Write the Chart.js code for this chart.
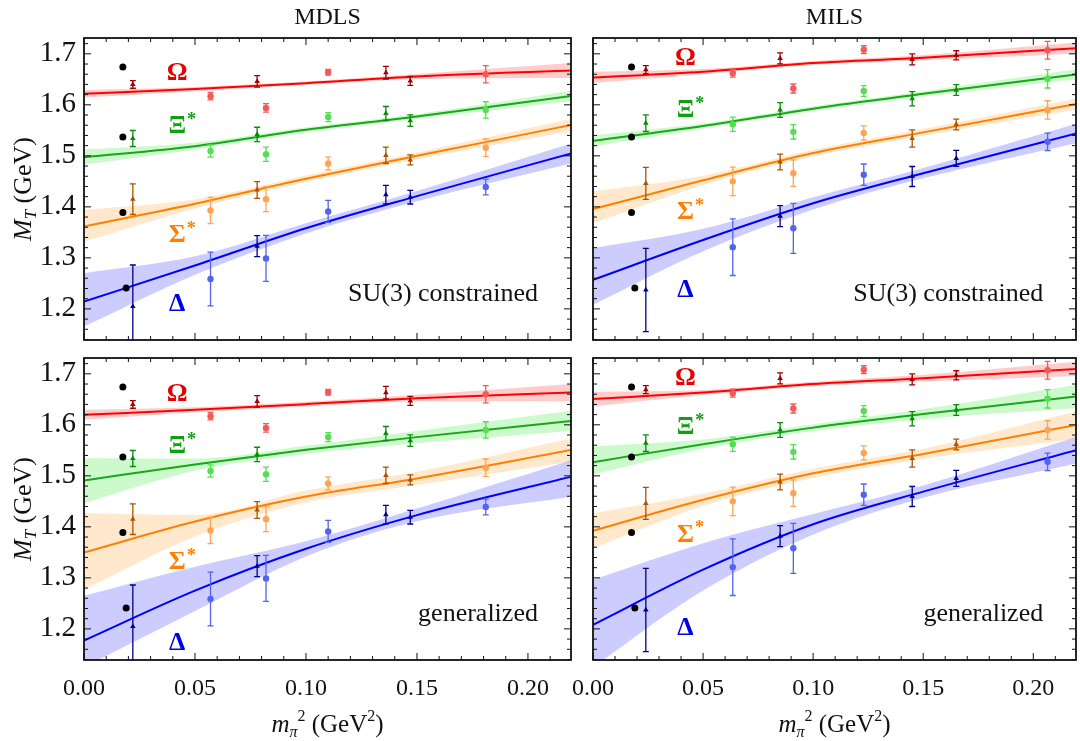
<!DOCTYPE html>
<html>
<head>
<meta charset="utf-8">
<script src="https://cdn.jsdelivr.net/npm/chart.js@4.4.0/dist/chart.umd.min.js"></script>
<style>
  body { margin: 0; background: #fff; width: 1080px; height: 741px; overflow: hidden; position: relative; }
  canvas { position: absolute; }
</style>
</head>
<body>
<canvas id="tl" width="582" height="349" style="left:0;top:0"></canvas>
<canvas id="tr" width="498" height="349" style="left:582px;top:0"></canvas>
<canvas id="bl" width="582" height="392" style="left:0;top:349px"></canvas>
<canvas id="br" width="520" height="392" style="left:560px;top:349px"></canvas>
<script>
// axes
const xTicks = [0, 0.05, 0.10, 0.15, 0.20];
const yTicks = [1.2, 1.3, 1.4, 1.5, 1.6, 1.7];
const xMin = 0, xMax = 0.2194;
const yMin = 1.139, yMax = 1.731;

// baryons: Omega, Xi*, Sigma*, Delta
const names = ['Ω', 'Ξ', 'Σ', 'Δ'];
const starred = [false, true, true, false];
const lineColors = ['#ff0000', '#19a619', '#ff8000', '#0000ff'];
const bandColors = ['rgba(255,0,0,0.2)', 'rgba(0,230,0,0.2)', 'rgba(255,140,0,0.2)', 'rgba(0,0,255,0.2)'];
const triColors = ['#a00000', '#0a8a0a', '#a85400', '#000090'];
const circColors = ['#f25a5a', '#52e052', '#ffa452', '#5264f0'];
const labelColors = ['#e60000', '#0fa00f', '#ff8000', '#0000e6'];

// physical masses
const physX = [0.0175, 0.0175, 0.0175, 0.019];
const physM = [1.674, 1.537, 1.389, 1.241];

// lattice points, [mass, error]
const mdlsTriX = [0.022, 0.078, 0.136, 0.147];
const mdlsCircX = [0.057, 0.082, 0.110, 0.181];
const mdlsTri = [
  [[1.640, 0.0075], [1.646, 0.0114], [1.663, 0.0124], [1.647, 0.0088]],
  [[1.534, 0.0157], [1.542, 0.014], [1.583, 0.0137], [1.569, 0.0114]],
  [[1.415, 0.030], [1.433, 0.0163], [1.501, 0.016], [1.492, 0.0098]],
  [[1.205, 0.081], [1.323, 0.0206], [1.424, 0.018], [1.419, 0.0134]]
];
const mdlsCirc = [
  [[1.617, 0.0072], [1.594, 0.0082], [1.664, 0.0056], [1.660, 0.017]],
  [[1.5095, 0.012], [1.503, 0.014], [1.576, 0.0088], [1.590, 0.016]],
  [[1.393, 0.026], [1.415, 0.0245], [1.485, 0.0124], [1.516, 0.017]],
  [[1.2585, 0.0526], [1.299, 0.045], [1.391, 0.0216], [1.439, 0.0154]]
];
const milsTriX = [0.024, 0.085, 0.145, 0.165];
const milsCircX = [0.0635, 0.091, 0.123, 0.2065];
const milsTri = [
  [[1.669, 0.0078], [1.691, 0.0108], [1.689, 0.0108], [1.697, 0.009]],
  [[1.564, 0.0163], [1.590, 0.0144], [1.612, 0.014], [1.629, 0.0105]],
  [[1.446, 0.0314], [1.488, 0.0154], [1.534, 0.017], [1.5615, 0.0105]],
  [[1.237, 0.0817], [1.382, 0.0206], [1.4595, 0.0196], [1.495, 0.0157]]
];
const milsCirc = [
  [[1.662, 0.0078], [1.632, 0.0088], [1.708, 0.0078], [1.707, 0.0173]],
  [[1.562, 0.014], [1.547, 0.014], [1.627, 0.0105], [1.651, 0.018]],
  [[1.450, 0.028], [1.466, 0.026], [1.545, 0.0137], [1.590, 0.018]],
  [[1.321, 0.0556], [1.358, 0.049], [1.463, 0.021], [1.5275, 0.017]]
];

// fits read at these pion masses: [central, upper, lower]
const fitX = [0, 0.05, 0.10, 0.15, 0.22];
const mdlsSu3 = [
  [[1.6216, 1.6308, 1.6425, 1.6556, 1.6674], [1.6288, 1.6348, 1.6458, 1.6606, 1.6821], [1.6144, 1.6268, 1.6392, 1.6506, 1.6527]],
  [[1.4974, 1.519, 1.551, 1.5772, 1.6177], [1.5124, 1.5255, 1.556, 1.5822, 1.6282], [1.4824, 1.5125, 1.546, 1.5722, 1.6072]],
  [[1.3615, 1.406, 1.455, 1.500, 1.5608], [1.3942, 1.415, 1.4615, 1.5065, 1.5728], [1.332, 1.397, 1.4485, 1.4935, 1.5488]],
  [[1.2144, 1.285, 1.358, 1.421, 1.5053], [1.270, 1.303, 1.368, 1.431, 1.5249], [1.1654, 1.267, 1.348, 1.411, 1.4857]]
];
const milsSu3 = [
  [[1.6536, 1.665, 1.682, 1.6925, 1.7112], [1.6646, 1.670, 1.686, 1.6975, 1.7222], [1.6426, 1.660, 1.678, 1.6875, 1.7002]],
  [[1.5295, 1.5585, 1.5925, 1.6215, 1.66], [1.5405, 1.5635, 1.597, 1.6265, 1.67], [1.5185, 1.5535, 1.588, 1.6165, 1.65]],
  [[1.3955, 1.452, 1.5055, 1.546, 1.602], [1.4301, 1.461, 1.512, 1.5525, 1.613], [1.368, 1.443, 1.499, 1.5395, 1.591]],
  [[1.2569, 1.335, 1.407, 1.466, 1.5445], [1.319, 1.357, 1.419, 1.476, 1.5635], [1.2079, 1.313, 1.395, 1.456, 1.5255]]
];
const mdlsGen = [
  [[1.6196, 1.6295, 1.6406, 1.6523, 1.6634], [1.6294, 1.6345, 1.6451, 1.6588, 1.6804], [1.6098, 1.6245, 1.6361, 1.6458, 1.6464]],
  [[1.4909, 1.5223, 1.551, 1.5759, 1.6079], [1.5347, 1.534, 1.559, 1.588, 1.628], [1.4464, 1.510, 1.543, 1.564, 1.588]],
  [[1.3497, 1.4105, 1.4595, 1.495, 1.551], [1.4268, 1.4236, 1.4715, 1.508, 1.574], [1.2765, 1.381, 1.4475, 1.482, 1.528]],
  [[1.1772, 1.275, 1.357, 1.423, 1.4987], [1.2648, 1.322, 1.372, 1.436, 1.5314], [1.125, 1.235, 1.342, 1.411, 1.4595]]
];
const milsGen = [
  [[1.6504, 1.6634, 1.68, 1.6915, 1.7098], [1.6648, 1.6684, 1.6845, 1.698, 1.7238], [1.636, 1.6584, 1.6755, 1.685, 1.6958]],
  [[1.5268, 1.562, 1.5945, 1.621, 1.6556], [1.5575, 1.571, 1.601, 1.631, 1.6786], [1.502, 1.553, 1.588, 1.611, 1.6326]],
  [[1.3922, 1.453, 1.505, 1.543, 1.6], [1.4268, 1.465, 1.514, 1.553, 1.627], [1.3582, 1.441, 1.496, 1.533, 1.573]],
  [[1.2079, 1.316, 1.405, 1.469, 1.551], [1.2961, 1.368, 1.425, 1.481, 1.577], [1.125, 1.275, 1.385, 1.457, 1.525]]
];

// label positions (data coords)
const labelX = 0.042;
const labelYTL = [1.662, 1.557, 1.345, 1.2085];
const labelYTR = [1.6915, 1.5896, 1.3896, 1.2373];
const labelYBL = [1.659, 1.5576, 1.3308, 1.1713];
const labelYBR = [1.6915, 1.5948, 1.3844, 1.2007];
const noteX = 0.2045, noteY = 1.2163;

const serif = '"Liberation Serif", "DejaVu Serif", serif';

function pts(xs, vals) {
  return xs.map((x, i) => ({ x: x, y: vals[i] }));
}

function buildDatasets(triX, circX, tri, circ, fits) {
  const ds = [];
  for (let b = 0; b < 4; b++) {
    ds.push({
      data: pts(triX, tri[b].map(p => p[0])), errs: tri[b].map(p => p[1]),
      pointStyle: 'triangle', pointRadius: 3.2, backgroundColor: triColors[b],
      borderColor: triColors[b], borderWidth: 0, showLine: false, order: 0
    });
    ds.push({
      data: pts(circX, circ[b].map(p => p[0])), errs: circ[b].map(p => p[1]),
      pointStyle: 'circle', pointRadius: 3.2, backgroundColor: circColors[b],
      borderColor: circColors[b], borderWidth: 0, showLine: false, order: 0
    });
  }
  ds.push({
    data: pts(physX, physM), pointStyle: 'circle', pointRadius: 3.5,
    backgroundColor: '#000', borderColor: '#000', borderWidth: 0, showLine: false, order: 0
  });
  for (let b = 0; b < 4; b++) {
    ds.push({
      data: pts(fitX, fits[b][0]), showLine: true, borderColor: lineColors[b], borderWidth: 2,
      pointRadius: 0, cubicInterpolationMode: 'monotone', fill: false, order: 1
    });
    ds.push({
      data: pts(fitX, fits[b][1]), showLine: true, borderWidth: 0, borderColor: 'rgba(0,0,0,0)',
      backgroundColor: bandColors[b], pointRadius: 0, cubicInterpolationMode: 'monotone', fill: '+1', order: 2
    });
    ds.push({
      data: pts(fitX, fits[b][2]), showLine: true, borderWidth: 0, borderColor: 'rgba(0,0,0,0)',
      pointRadius: 0, cubicInterpolationMode: 'monotone', fill: false, order: 2
    });
  }
  return ds;
}

const errorBars = {
  id: 'errorBars',
  afterDatasetsDraw(chart) {
    const { ctx, chartArea: a } = chart;
    const x = chart.scales.x, y = chart.scales.y;
    ctx.save();
    ctx.beginPath();
    ctx.rect(a.left, a.top, a.right - a.left, a.bottom - a.top);
    ctx.clip();
    ctx.lineWidth = 1.3;
    chart.data.datasets.forEach(ds => {
      if (!ds.errs) return;
      ctx.strokeStyle = ds.borderColor;
      ds.data.forEach((p, i) => {
        const px = x.getPixelForValue(p.x);
        const y1 = y.getPixelForValue(p.y + ds.errs[i]);
        const y2 = y.getPixelForValue(p.y - ds.errs[i]);
        ctx.beginPath();
        ctx.moveTo(px, y1); ctx.lineTo(px, y2);
        ctx.moveTo(px - 3, y1); ctx.lineTo(px + 3, y1);
        ctx.moveTo(px - 3, y2); ctx.lineTo(px + 3, y2);
        ctx.stroke();
      });
    });
    ctx.restore();
  }
};

// frame with inward ticks on all four sides
const frame = {
  id: 'frame',
  afterDraw(chart) {
    const { ctx, chartArea: a } = chart;
    const x = chart.scales.x, y = chart.scales.y;
    ctx.save();
    ctx.strokeStyle = '#111';
    ctx.lineWidth = 1;
    ctx.beginPath();
    for (let i = 0; i <= 22; i++) {
      const px = x.getPixelForValue(i / 100);
      if (px > a.right - 1) break;
      const len = i % 5 === 0 ? 7 : 4;
      ctx.moveTo(px, a.bottom); ctx.lineTo(px, a.bottom - len);
      ctx.moveTo(px, a.top); ctx.lineTo(px, a.top + len);
    }
    for (let i = 57; i <= 86; i++) {
      const py = y.getPixelForValue(i * 0.02);
      const len = i % 5 === 0 ? 7 : 4;
      ctx.moveTo(a.left, py); ctx.lineTo(a.left + len, py);
      ctx.moveTo(a.right, py); ctx.lineTo(a.right - len, py);
    }
    ctx.stroke();
    ctx.lineWidth = 1.8;
    ctx.strokeRect(a.left, a.top, a.right - a.left, a.bottom - a.top);
    ctx.restore();
  }
};

function drawRich(ctx, pieces, cx, by) {
  let w = 0;
  pieces.forEach(p => { ctx.font = p.f; w += ctx.measureText(p.t).width; });
  let px = cx - w / 2;
  pieces.forEach(p => {
    ctx.font = p.f;
    ctx.fillText(p.t, px, by + (p.dy || 0));
    px += ctx.measureText(p.t).width;
  });
}

function makeLabels(ys, note) {
  return {
    id: 'baryonLabels',
    afterDatasetsDraw(chart) {
      const { ctx } = chart;
      const x = chart.scales.x, y = chart.scales.y;
      ctx.save();
      for (let b = 0; b < 4; b++) {
        const px = x.getPixelForValue(labelX), py = y.getPixelForValue(ys[b]);
        ctx.fillStyle = labelColors[b];
        ctx.font = 'bold 26px ' + serif;
        ctx.textAlign = 'center';
        ctx.textBaseline = 'middle';
        ctx.fillText(names[b], px, py);
        if (starred[b]) {
          const w = ctx.measureText(names[b]).width;
          ctx.font = 'bold 18px ' + serif;
          ctx.textAlign = 'left';
          ctx.fillText('*', px + w / 2 + 1, py - 6);
        }
      }
      ctx.fillStyle = '#111';
      ctx.font = '26px ' + serif;
      ctx.textAlign = 'right';
      ctx.textBaseline = 'alphabetic';
      ctx.fillText(note, x.getPixelForValue(noteX), y.getPixelForValue(noteY));
      ctx.restore();
    }
  };
}

const axisTitles = {
  id: 'axisTitles',
  afterDraw(chart, args, opts) {
    const { ctx, chartArea: a } = chart;
    ctx.save();
    ctx.fillStyle = '#111';
    ctx.textAlign = 'left';
    ctx.textBaseline = 'alphabetic';
    if (opts.yTitle) {
      ctx.translate(31, (a.top + a.bottom) / 2);
      ctx.rotate(-Math.PI / 2);
      drawRich(ctx, [
        { t: 'M', f: 'italic 26px ' + serif },
        { t: 'T', f: 'italic 17px ' + serif, dy: 5 },
        { t: ' (GeV)', f: '26px ' + serif }
      ], 0, 0);
    }
    ctx.restore();
    ctx.save();
    ctx.fillStyle = '#111';
    ctx.textAlign = 'left';
    ctx.textBaseline = 'alphabetic';
    if (opts.xTitle) {
      drawRich(ctx, [
        { t: 'm', f: 'italic 25px ' + serif },
        { t: 'π', f: 'italic 16px ' + serif, dy: 5 },
        { t: '2', f: '16px ' + serif, dy: -11 },
        { t: ' (GeV', f: '25px ' + serif },
        { t: '2', f: '16px ' + serif, dy: -11 },
        { t: ')', f: '25px ' + serif }
      ], (a.left + a.right) / 2, a.bottom + 72);
    }
    ctx.restore();
  }
};

function makeChart(id, o) {
  const yAxis = {
    type: 'linear', min: yMin, max: yMax, display: o.left,
    grid: { display: false, drawTicks: false }, border: { display: false },
    afterBuildTicks: s => { s.ticks = yTicks.map(v => ({ value: v })); },
    afterFit: s => {
      s.width = o.left ? 84 : 0;
      s.paddingTop = 0; s.paddingBottom = 0; s.paddingLeft = 0; s.paddingRight = 0;
    },
    ticks: { padding: 8, color: '#111', font: { family: serif, size: 29 }, callback: v => v.toFixed(1) }
  };
  const xAxis = {
    type: 'linear', min: xMin, max: xMax, display: o.bottom,
    grid: { display: false, drawTicks: false }, border: { display: false },
    afterBuildTicks: s => { s.ticks = xTicks.map(v => ({ value: v })); },
    afterFit: s => {
      s.height = o.bottom ? 81 : 0;
      s.paddingLeft = 0; s.paddingRight = 0; s.paddingTop = 0; s.paddingBottom = 0;
    },
    ticks: { padding: 14, color: '#111', maxRotation: 0, autoSkip: false, font: { family: serif, size: 24 }, callback: v => v.toFixed(2) }
  };
  return new Chart(document.getElementById(id), {
    type: 'scatter',
    data: { datasets: buildDatasets(o.triX, o.circX, o.tri, o.circ, o.fits) },
    options: {
      responsive: false, animation: false,
      layout: { padding: { top: o.title ? 0 : 9, right: o.left ? 11 : 0, bottom: o.bottom ? 0 : 9, left: o.left ? 0 : o.padLeft } },
      scales: { x: xAxis, y: yAxis },
      plugins: {
        legend: { display: false }, tooltip: { enabled: false },
        title: {
          display: !!o.title, text: o.title || '', fullSize: false, color: '#111',
          font: { family: serif, size: 24, weight: 'normal' }, padding: { top: 3, bottom: 6.2 }
        },
        axisTitles: { yTitle: o.left, xTitle: o.bottom }
      }
    },
    plugins: [errorBars, makeLabels(o.labels, o.note), frame, axisTitles]
  });
}

makeChart('tl', { title: 'MDLS', left: true, bottom: false, triX: mdlsTriX, circX: mdlsCircX, tri: mdlsTri, circ: mdlsCirc, fits: mdlsSu3, labels: labelYTL, note: 'SU(3) constrained' });
makeChart('tr', { title: 'MILS', left: false, bottom: false, padLeft: 11, triX: milsTriX, circX: milsCircX, tri: milsTri, circ: milsCirc, fits: milsSu3, labels: labelYTR, note: 'SU(3) constrained' });
makeChart('bl', { title: null, left: true, bottom: true, triX: mdlsTriX, circX: mdlsCircX, tri: mdlsTri, circ: mdlsCirc, fits: mdlsGen, labels: labelYBL, note: 'generalized' });
makeChart('br', { title: null, left: false, bottom: true, padLeft: 33, triX: milsTriX, circX: milsCircX, tri: milsTri, circ: milsCirc, fits: milsGen, labels: labelYBR, note: 'generalized' });
</script>
</body>
</html>
